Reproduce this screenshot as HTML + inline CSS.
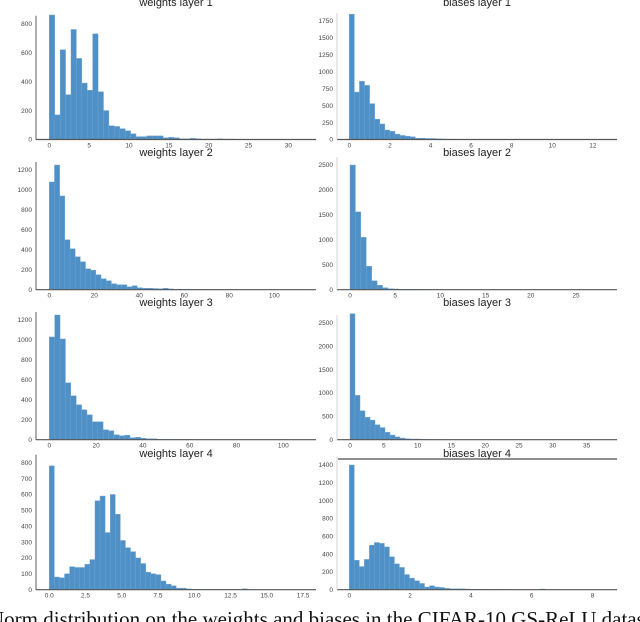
<!DOCTYPE html>
<html><head><meta charset="utf-8">
<style>
html,body{margin:0;padding:0;background:#fff;width:640px;height:622px;overflow:hidden}
svg{display:block}
.t{font-family:"Liberation Sans",sans-serif;font-size:11px;fill:#222}
.k{font-family:"Liberation Sans",sans-serif;font-size:6.5px;fill:#444}
.cap{font-family:"Liberation Serif",serif;font-size:21px;fill:#111}
</style></head><body>
<svg id="fig" width="640" height="622" xmlns="http://www.w3.org/2000/svg">
<text class="cap" x="-11" y="626">Norm distribution on the weights and biases in the CIFAR-10 GS-ReLU dataset</text>
</svg>
<script>
// Histogram data (counts per bin)
const w1Counts=[860,170,620,310,760,560,390,340,730,330,200,95,90,75,60,40,20,20,25,25,25,12,15,12,5,5,8,5,3,3,3,5,3,3,2,2,2,1,1,1,1];
const b1Counts=[1850,700,860,800,530,300,230,140,120,80,60,50,40,20,20,15,15,10,8,5,5,5,3,3,3,2,2,2,2,1,1,1];
const w2Counts=[1080,1250,940,500,410,330,280,210,195,150,110,90,60,50,50,30,40,20,15,15,12,10,15,8,5,5,5,3,3,3,2,2,2,2,1,1,1,1,1,1,1,1,1,1,1,1,1,1,1];
const b2Counts=[2500,1560,1050,470,180,90,40,20,15,10,10,10,10,8,5,3,3,2,2,2,2,1,1,1,1,1,1,1,1,1,1,1,1,1,1,1,1,1,1,1,1,1,1,1,1];
const w3Counts=[1030,1250,1010,570,440,350,300,250,180,180,100,90,50,40,45,20,25,15,10,10,5,5,5,3,3,3,2,2,2,2,1,1,1,1,1,1,1,1,1,1,1,1,1,1];
const b3Counts=[2700,950,620,480,420,320,260,160,100,60,35,20,15,15,10,5,3,2,2,2,1,1,1,1,1,1,1,1,1,1,1,1,1,1,1,1,1,1,1,1,1,1,1,1,1,1,1,1];
const w4Counts=[780,80,75,100,145,140,140,160,190,560,590,360,600,475,310,265,240,200,165,110,100,95,55,35,25,10,10,5,3,2,1,1,1,1,1,1,1,1,6,1];
const b4Counts=[1400,330,260,340,500,530,520,480,370,290,250,170,130,100,70,30,45,30,25,15,10,10,10,8,5,5,5,3,3,2,2,2,1,1,1,1,1,1,8,1,1,1,1];
// Tick labels
const w1YTicks=[0,200,400,600,800], w1XTicks=[0,5,10,15,20,25,30];
const b1YTicks=[0,250,500,750,1000,1250,1500,1750], b1XTicks=[0,2,4,6,8,10,12];
const w2YTicks=[0,200,400,600,800,1000,1200], w2XTicks=[0,20,40,60,80,100];
const b2YTicks=[0,500,1000,1500,2000,2500], b2XTicks=[0,5,10,15,20,25];
const w3YTicks=[0,200,400,600,800,1000,1200], w3XTicks=[0,20,40,60,80,100];
const b3YTicks=[0,500,1000,1500,2000,2500], b3XTicks=[0,5,10,15,20,25,30,35];
const w4YTicks=[0,100,200,300,400,500,600,700,800], w4XTicks=[0,2.5,5,7.5,10,12.5,15,17.5];
const b4YTicks=[0,200,400,600,800,1000,1200,1400], b4XTicks=[0,2,4,6,8];

const NS="http://www.w3.org/2000/svg";
const svg=document.getElementById('fig');
function mk(tag,attrs,parent){const e=document.createElementNS(NS,tag);for(const k in attrs)e.setAttribute(k,attrs[k]);(parent||svg).appendChild(e);return e;}

const panels=[
 {id:'weights-layer-1',title:'weights layer 1',counts:w1Counts,yt:w1YTicks,xt:w1XTicks,binw:0.68,x0:49.3,unit:7.97,base:139.5,ytop:800,ypx:23.7,L:36,R:316,fmt:v=>v},
 {id:'biases-layer-1',title:'biases layer 1',counts:b1Counts,yt:b1YTicks,xt:b1XTicks,binw:0.25,x0:349.3,unit:20.3,base:139.5,ytop:1750,ypx:21,L:337,R:617,fmt:v=>v},
 {id:'weights-layer-2',title:'weights layer 2',counts:w2Counts,yt:w2YTicks,xt:w2XTicks,binw:2.3,x0:49.3,unit:2.25,base:289.7,ytop:1200,ypx:170,L:36,R:316,fmt:v=>v},
 {id:'biases-layer-2',title:'biases layer 2',counts:b2Counts,yt:b2YTicks,xt:b2XTicks,binw:0.6,x0:350,unit:9.04,base:289.7,ytop:2500,ypx:165,L:337,R:617,fmt:v=>v},
 {id:'weights-layer-3',title:'weights layer 3',counts:w3Counts,yt:w3YTicks,xt:w3XTicks,binw:2.3,x0:49.3,unit:2.34,base:439.7,ytop:1200,ypx:320,L:36,R:316,fmt:v=>v},
 {id:'biases-layer-3',title:'biases layer 3',counts:b3Counts,yt:b3YTicks,xt:b3XTicks,binw:0.74,x0:350,unit:6.76,base:439.7,ytop:2500,ypx:323,L:337,R:617,fmt:v=>v},
 {id:'weights-layer-4',title:'weights layer 4',counts:w4Counts,yt:w4YTicks,xt:w4XTicks,binw:0.35,x0:49.3,unit:14.5,base:589.7,ytop:800,ypx:462.7,L:36,R:316,fmt:v=>v.toFixed(1)},
 {id:'biases-layer-4',title:'biases layer 4',counts:b4Counts,yt:b4YTicks,xt:b4XTicks,binw:0.165,x0:349.3,unit:30.4,base:589.7,ytop:1400,ypx:465,L:337,R:617,fmt:v=>v}
];
const titleY=[6,6,156,156,306,306,457,457];

panels.forEach((p,i)=>{
  const g=mk('g',{});
  
  
  const sx=v=>p.x0+v*p.unit;
  const sy=v=>p.base-(v/p.ytop)*(p.base-p.ypx);
  const cx=(p.L+p.R)/2;
  const t=mk('text',{class:'t',x:cx,y:titleY[i],'text-anchor':'middle'},g);
  t.textContent=p.title;
  
  
  p.counts.forEach((c,j)=>{
    const x=sx(j*p.binw), w=p.binw*p.unit, y=sy(c);
    const r=mk('rect',{x:x,y:y,width:w,height:p.base-y,fill:'#4f90c6',stroke:'#6fa6d3','stroke-width':0.4},g);
    
    
  });
  const ax=mk('line',{x1:p.L,y1:p.base,x2:p.R,y2:p.base,stroke:'#555','stroke-width':1.2},g);
  
  
  const ay=mk('line',{x1:p.L,y1:p.base,x2:p.L,y2:sy(p.ytop)-8,stroke:i%2==0?'#333':'#ccc','stroke-width':0.8},g);
  
  
  p.yt.forEach(v=>{
    const tt=mk('text',{class:'k',x:p.L-4,y:sy(v)+2.2,'text-anchor':'end'},g);
    tt.textContent=v;
    
    
  });
  p.xt.forEach(v=>{
    const tt=mk('text',{class:'k',x:sx(v),y:p.base+8,'text-anchor':'middle'},g);
    tt.textContent=p.fmt(v);
    
    
  });
});
const hl=mk('line',{x1:338,y1:459,x2:617,y2:459,stroke:'#222','stroke-width':1});


</script>
</body></html>
